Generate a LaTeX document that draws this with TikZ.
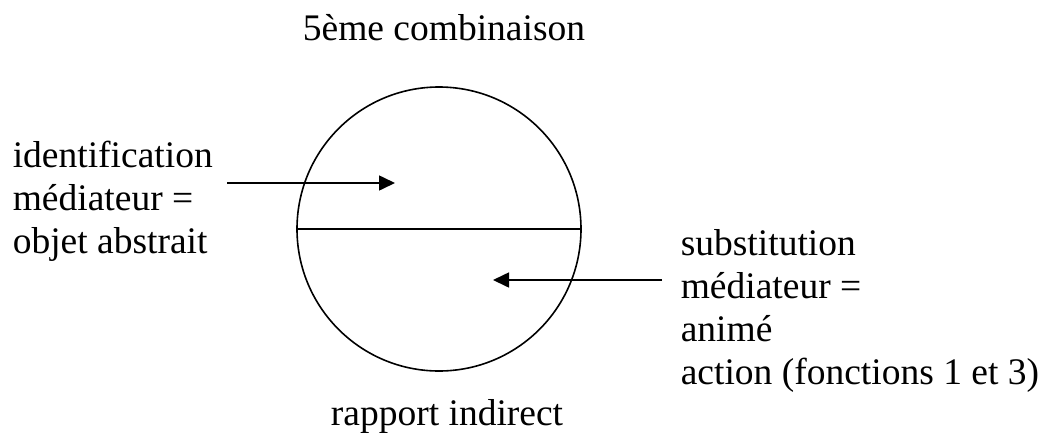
\documentclass[tikz,border=0pt]{standalone}
\usepackage{fontspec}
\setmainfont{Liberation Serif}
\usepackage{tikz}
\usetikzlibrary{arrows.meta,positioning}

\begin{document}
\begin{tikzpicture}[%
            x=1pt, y=-1pt,
            line width=1.6pt,
            >={Triangle[length=16pt,width=15pt]},
            every node/.style={font=\fontsize{37.5}{43}\selectfont},
            texte/.style={anchor=base west,align=left,inner sep=0pt},
            disque/.style={draw,circle,minimum size=284pt,inner sep=0pt},
            fleche/.style={->,shorten >=0pt}]
    \useasboundingbox (0,0) rectangle (1042,432);
    \node[disque] (disque) at (439,229) {};
    \node[anchor=base,inner sep=0pt] (titre) at (444,40) {5ème combinaison};
    \node[anchor=base,inner sep=0pt] (rapport) at (447,425) {rapport indirect};
    % base = baseline of the last line
    \node[texte] (ident) at (12,253) {identification\\médiateur =\\objet abstrait};
    \node[texte] (subst) at (680,384) {substitution\\médiateur =\\animé\\action (fonctions 1 et 3)};
    \coordinate (a1) at (227,183);
    \coordinate (b1) at (395,183);
    \coordinate (a2) at (662,280);
    \coordinate (b2) at (493,280);
    \draw (disque.west) -- (disque.east);
    \draw[fleche] (a1) -- (b1);
    \draw[fleche] (a2) -- (b2);
\end{tikzpicture}
\end{document}
